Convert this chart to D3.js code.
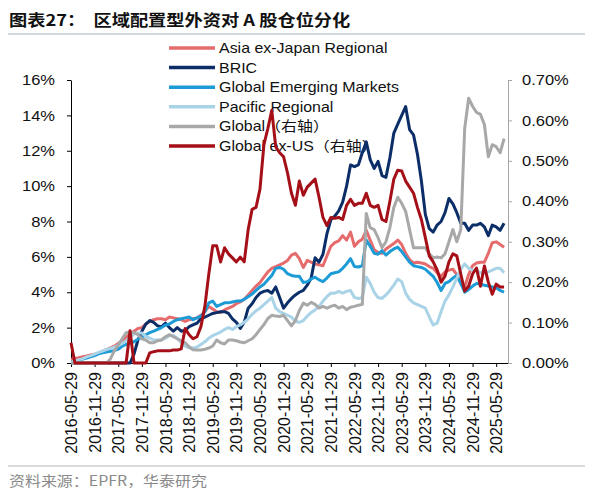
<!DOCTYPE html>
<html>
<head>
<meta charset="utf-8">
<script src="https://cdn.jsdelivr.net/npm/d3@7"></script>
<style>
  body { margin: 0; background: #fff; }
  text { font-family: 'Liberation Sans', Arial, 'Noto Sans CJK SC', sans-serif; }
</style>
</head>
<body>
<div id="container"></div>
<script>
// monthly observations, index 0 = 2016-05, last = 2025-07
const xTickLabels = ['2016-05-29', '2016-11-29', '2017-05-29', '2017-11-29', '2018-05-29',
  '2018-11-29', '2019-05-29', '2019-11-29', '2020-05-29', '2020-11-29', '2021-05-29',
  '2021-11-29', '2022-05-29', '2022-11-29', '2023-05-29', '2023-11-29', '2024-05-29',
  '2024-11-29', '2025-05-29'];
const xTickMonths = [0, 6, 12, 18, 24, 30, 36, 42, 48, 54, 60, 66, 72, 78, 84, 90, 96, 102, 108];
const leftTicks = [0, 2, 4, 6, 8, 10, 12, 14, 16];
const rightTicks = [0, 0.1, 0.2, 0.3, 0.4, 0.5, 0.6, 0.7];

// left axis, %
const asiaExJapan = [
  0.2, 0.25, 0.3, 0.35, 0.4, 0.45, 0.5, 0.55, 0.65, 0.75,
  0.85, 0.95, 1.1, 1.25, 1.45, 1.65, 1.8, 1.95, 2.0, 2.2,
  2.35, 2.45, 2.5, 2.5, 2.45, 2.6, 2.55, 2.5, 2.45, 2.35,
  2.45, 2.5, 2.55, 2.7, 2.9, 3.2, 3.05, 2.9, 2.85, 3.0,
  3.1, 3.2, 3.35, 3.45, 3.6, 3.85, 4.1, 4.35, 4.55, 4.85,
  5.15, 5.35, 5.45, 5.55, 5.65, 5.8, 6.1, 6.2, 5.9, 5.4,
  5.8, 5.7, 5.6, 5.55, 5.5, 6.05, 6.6, 6.8, 6.9, 7.2,
  6.95, 7.4, 6.6, 6.85, 7.0, 7.5, 6.95, 6.4, 6.25, 6.2,
  6.45, 6.6, 6.75, 6.95, 6.7, 6.2, 5.85, 5.65, 5.7, 5.65,
  5.6, 5.45, 5.35, 5.1, 4.9, 5.15, 5.25, 5.3, 5.0, 4.5,
  4.3, 5.0, 5.5, 5.65, 5.7, 5.7, 6.2, 6.8, 6.85, 6.7, 6.55];
const bric = [
  0, 0, 0, 0, 0, 0, 0, 0, 0, 0, 0, 0, 0, 0, 0, 0,
  0.5, 1.3, 1.8, 2.2, 2.4, 2.3, 2.1, 2.05, 2.25, 2.0,
  1.8, 2.0, 1.8, 1.85, 2.05, 2.15, 2.25, 2.5, 2.6, 2.7,
  2.8, 2.85, 2.9, 2.9, 2.8, 2.5, 2.3, 1.95, 2.3, 3.1,
  3.35, 3.7, 3.95, 4.05, 4.1, 3.95, 4.3, 3.7, 3.1, 3.4,
  3.65, 3.85, 4.0, 4.1, 4.4, 4.8, 5.95, 5.7, 6.15, 7.3,
  8.1, 8.3, 8.6, 9.1, 10.0, 11.2, 11.1, 11.2, 11.9, 12.5,
  11.5, 11.0, 11.4, 10.6, 10.5, 11.6, 13.0, 13.5, 14.0, 14.5,
  13.2, 12.9, 11.8, 10.3, 8.4, 7.6, 7.4, 7.8, 8.0, 8.5,
  9.3, 9.0, 8.5, 7.9, 7.9, 7.5, 7.8, 7.8, 7.9, 7.7,
  7.2, 7.8, 7.7, 7.5, 7.9];
const globalEM = [
  0.05, 0.1, 0.15, 0.22, 0.28, 0.35, 0.42, 0.52, 0.58, 0.62,
  0.66, 0.7, 0.78, 0.95, 1.05, 1.12, 1.2, 1.35, 1.45, 1.6,
  1.72, 1.8, 1.9, 2.0, 2.15, 2.2, 2.35, 2.45, 2.5, 2.55,
  2.6, 2.45, 2.55, 2.65, 2.9, 3.4, 3.5, 3.2, 3.3, 3.4,
  3.4, 3.45, 3.5, 3.5, 3.6, 3.75, 3.9, 4.1, 4.3, 4.45,
  4.7, 4.95, 5.35, 5.4, 5.3, 5.05, 4.95, 4.9, 4.9, 4.55,
  4.6, 4.75, 4.85, 4.7, 4.6, 4.8, 5.05, 5.1, 5.15, 5.35,
  5.6, 5.9, 5.45, 5.43, 5.5, 6.95, 6.6, 6.2, 6.15, 6.35,
  6.1, 6.3, 6.45, 6.55, 6.3, 6.0, 5.7, 5.5, 5.45, 5.4,
  5.3, 5.1, 4.9, 4.55, 4.1, 4.5, 4.6, 4.8, 4.95, 4.5,
  4.0, 4.15, 4.35, 4.5, 4.45, 4.4, 4.35, 4.3, 4.25, 4.1, 4.0];
const pacific = [
  0.05, 0.12, 0.18, 0.25, 0.35, 0.42, 0.5, 0.6, 0.68, 0.76,
  0.83, 0.9, 1.0, 1.1, 1.25, 1.45, 1.65, 1.7, 1.7, 1.5,
  1.4, 1.3, 1.3, 1.3, 1.4, 1.55, 1.55, 1.4, 1.15, 0.95,
  0.85, 0.85, 0.9, 1.05, 1.2, 1.4, 1.55, 1.65, 1.75, 1.9,
  2.0, 1.9, 2.05, 2.15, 2.3, 2.5, 2.75, 2.95, 3.1, 3.3,
  3.5, 3.7, 3.1, 2.9, 2.8, 2.7, 2.6, 2.35, 2.3, 2.4,
  2.65, 2.85, 3.0, 3.2, 3.5, 3.75, 3.95, 3.95, 4.05, 3.95,
  4.05, 4.1, 3.7, 3.65, 3.7, 4.85, 4.5, 4.0, 3.7, 3.65,
  3.85, 4.1, 4.4, 4.75, 4.6, 3.95, 3.6, 3.4, 3.3, 3.2,
  3.1, 2.6, 2.15, 2.25, 2.9, 3.5, 3.85, 4.3, 4.8, 5.3,
  5.6, 5.35, 5.25, 5.25, 5.1, 5.1, 5.15, 5.25, 5.35, 5.35, 5.1];

// right axis, %
const globalAll = [
  0, 0, 0, 0, 0, 0, 0, 0, 0, 0,
  0.01, 0.03, 0.045, 0.06, 0.075, 0.077, 0.075, 0.07, 0.06, 0.057,
  0.05, 0.05, 0.055, 0.057, 0.065, 0.07, 0.065, 0.06, 0.055, 0.05,
  0.04, 0.033, 0.032, 0.032, 0.034, 0.037, 0.042, 0.057, 0.05, 0.047,
  0.057, 0.057, 0.055, 0.052, 0.05, 0.055, 0.06, 0.07, 0.083, 0.095,
  0.11, 0.118, 0.116, 0.115, 0.118, 0.105, 0.092, 0.105, 0.13, 0.148,
  0.143, 0.15, 0.145, 0.136, 0.14, 0.136, 0.14, 0.143, 0.136, 0.14,
  0.132, 0.138, 0.14, 0.143, 0.145, 0.37, 0.335, 0.33, 0.31, 0.285,
  0.3, 0.335, 0.385, 0.41, 0.395, 0.375, 0.33, 0.285, 0.285, 0.285,
  0.285, 0.27, 0.26, 0.262, 0.26, 0.27, 0.3, 0.33, 0.3, 0.33,
  0.58, 0.655, 0.635, 0.62, 0.615, 0.59, 0.51, 0.54, 0.535, 0.52, 0.555];
const globalExUS = [
  0.05, 0, 0, 0, 0, 0, 0, 0, 0, 0, 0, 0, 0, 0, 0,
  0.08, 0, 0, 0, 0,
  0.025, 0.028, 0.03, 0.03, 0.03, 0.03, 0.032, 0.032, 0.035, 0.085,
  0.07, 0.06, 0.065, 0.09, 0.14, 0.22, 0.29, 0.29, 0.25, 0.285,
  0.27, 0.26, 0.25, 0.262, 0.25, 0.33, 0.38, 0.385, 0.43, 0.54,
  0.58, 0.625, 0.535, 0.52, 0.51, 0.47, 0.42, 0.39, 0.45, 0.415,
  0.435, 0.445, 0.455, 0.41, 0.36, 0.34, 0.36, 0.358, 0.36, 0.355,
  0.39, 0.405, 0.39, 0.395, 0.395, 0.42, 0.39, 0.385, 0.39, 0.355,
  0.35, 0.4, 0.455, 0.477, 0.475, 0.45, 0.435, 0.42, 0.385, 0.355,
  0.31, 0.265, 0.25, 0.23, 0.2, 0.215, 0.25, 0.27, 0.265, 0.22,
  0.178, 0.19, 0.22, 0.235, 0.19, 0.24, 0.2, 0.17, 0.195, 0.188, 0.188];

const series = [
  {name: 'Asia ex-Japan Regional', values: asiaExJapan, color: '#e56b6d', axis: 'left'},
  {name: 'BRIC', values: bric, color: '#0c2e68', axis: 'left'},
  {name: 'Global Emerging Markets', values: globalEM, color: '#1d9bd6', axis: 'left'},
  {name: 'Pacific Regional', values: pacific, color: '#a9d3e6', axis: 'left'},
  {name: 'Global（右轴）', values: globalAll, color: '#a8a8a8', axis: 'right'},
  {name: 'Global ex-US（右轴）', values: globalExUS, color: '#a50f17', axis: 'right'}
];

const w = 592;
const h = 500;
const p = {top: 80, right: 84, bottom: 137, left: 71};
const sx = 1.14; // the reference's lettering is a little wider than tall

const svg = d3.select('#container')
  .append('svg')
  .attr('width', w)
  .attr('height', h)
  .attr('viewBox', [0, 0, w, h]);

const x = d3.scaleLinear()
  .domain([0, 111])
  .range([p.left, w - p.right]);
const yL = d3.scaleLinear()
  .domain([0, 16])
  .range([h - p.bottom, p.top]);
const yR = d3.scaleLinear()
  .domain([0, 0.7])
  .range([h - p.bottom, p.top]);

// title and rules
svg.append('text')
  .attr('transform', 'translate(9,26) scale(' + sx + ',1)')
  .style('font-family', "'Noto Sans CJK SC', sans-serif")
  .style('font-weight', 'bold')
  .style('font-size', '16px')
  .style('white-space', 'pre')
  .attr('fill', '#111')
  .text('图表27：  区域配置型外资对 A 股仓位分化');
svg.append('line')
  .attr('x1', 8).attr('x2', 585).attr('y1', 34).attr('y2', 34)
  .attr('stroke', '#9fb0c2').attr('stroke-width', 1.2);
svg.append('line')
  .attr('x1', 8).attr('x2', 585).attr('y1', 466).attr('y2', 466)
  .attr('stroke', '#b4b4b4').attr('stroke-width', 1.2);
svg.append('text')
  .attr('transform', 'translate(9,486) scale(' + sx + ',1)')
  .style('font-family', "'Noto Sans CJK SC', sans-serif")
  .style('font-size', '14px')
  .attr('fill', '#8a8a8a')
  .text('资料来源：EPFR，华泰研究');

// axes
const xAxis = d3.axisBottom(x)
  .tickValues(xTickMonths)
  .tickFormat((d, i) => xTickLabels[i])
  .tickSize(4)
  .tickSizeOuter(0);
svg.append('g')
  .attr('transform', 'translate(0,' + (h - p.bottom) + ')')
  .call(xAxis)
  .call(g => g.select('.domain').attr('stroke', '#000').attr('d', 'M' + p.left + ',0.5H' + (w - p.right)))
  .call(g => g.selectAll('.tick line').attr('stroke', '#000'))
  .call(g => g.selectAll('.tick text')
    .attr('transform', 'rotate(-90)')
    .attr('text-anchor', 'end')
    .attr('x', -9)
    .attr('y', 0)
    .attr('dy', '0.35em')
    .style('font-size', '16px')
    .attr('fill', '#111'));

const yAxisL = d3.axisLeft(yL)
  .tickValues(leftTicks)
  .tickFormat(d => d + '%')
  .tickSize(4)
  .tickSizeOuter(0);
svg.append('g')
  .attr('transform', 'translate(' + p.left + ',0)')
  .call(yAxisL)
  .call(g => g.select('.domain').attr('stroke', '#000'))
  .call(g => g.selectAll('.tick line').attr('stroke', '#000'))
  .call(g => g.selectAll('.tick text')
    .attr('transform', 'scale(' + sx + ',1)')
    .attr('x', -16 / sx)
    .style('font-size', '14.5px')
    .attr('fill', '#111'));

const yAxisR = d3.axisRight(yR)
  .tickValues(rightTicks)
  .tickFormat(d => d3.format('.2f')(d) + '%')
  .tickSize(4)
  .tickSizeOuter(0);
svg.append('g')
  .attr('transform', 'translate(' + (w - p.right) + ',0)')
  .call(yAxisR)
  .call(g => g.select('.domain').attr('stroke', '#a6a6a6'))
  .call(g => g.selectAll('.tick line').attr('stroke', '#a6a6a6'))
  .call(g => g.selectAll('.tick text')
    .attr('transform', 'scale(' + sx + ',1)')
    .attr('x', 14 / sx)
    .style('font-size', '14.5px')
    .attr('fill', '#111'));

// legend (drawn under the lines, as in the reference)
const legend = svg.append('g');
const legendRow = d3.scalePoint()
  .domain(series.map(s => s.name))
  .range([48, 146]);
legend.selectAll('line')
  .data(series)
  .join('line')
  .attr('x1', 169).attr('x2', 215)
  .attr('y1', d => legendRow(d.name))
  .attr('y2', d => legendRow(d.name))
  .attr('stroke', d => d.color)
  .attr('stroke-width', 3.5);
legend.selectAll('text')
  .data(series)
  .join('text')
  .attr('transform', d => 'translate(219,' + (legendRow(d.name) + 5) + ') scale(' + sx + ',1)')
  .style('font-size', '14px')
  .attr('fill', '#111')
  .text(d => d.name);

// lines
const lineL = d3.line().x((d, i) => x(i)).y(d => yL(d));
const lineR = d3.line().x((d, i) => x(i)).y(d => yR(d));
svg.append('g')
  .selectAll('path')
  .data(series)
  .join('path')
  .attr('fill', 'none')
  .attr('stroke', d => d.color)
  .attr('stroke-width', 3)
  .attr('stroke-linejoin', 'round')
  .attr('d', d => d.axis === 'left' ? lineL(d.values) : lineR(d.values));
</script>
</body>
</html>
